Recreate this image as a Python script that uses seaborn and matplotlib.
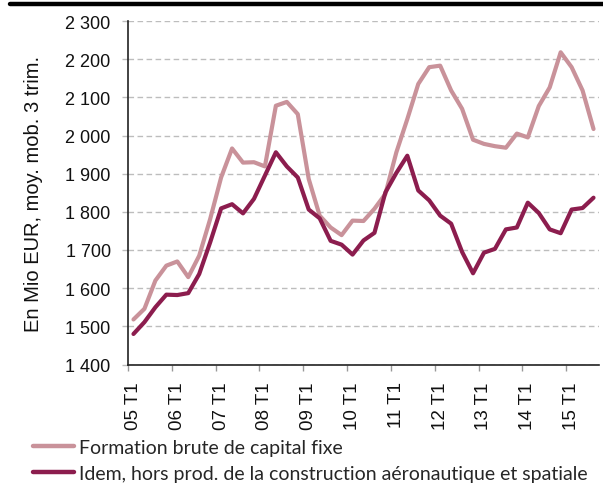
import numpy as np
import pandas as pd
import seaborn as sns
import matplotlib.pyplot as plt
from matplotlib.lines import Line2D
from matplotlib.ticker import FixedLocator, FuncFormatter

# quarters 05 T1 .. 15 T3
years = list(range(5, 16))
quarters = ['{:02d} T{}'.format(y, q) for y in years for q in range(1, 5)][:43]

fbcf = [1518, 1546, 1620, 1659, 1670, 1629, 1685, 1781, 1890, 1966,
        1929, 1930, 1919, 2078, 2088, 2056, 1886, 1790, 1759, 1739,
        1777, 1776, 1808, 1847, 1956, 2043, 2135, 2179, 2183, 2118,
        2070, 1989, 1978, 1972, 1968, 2005, 1995, 2077, 2126, 2218,
        2179, 2118, 2017]
hors_aero = [1480, 1511, 1550, 1583, 1582, 1587, 1637, 1720, 1809, 1820,
             1796, 1834, 1895, 1956, 1919, 1890, 1806, 1783, 1724, 1714,
             1688, 1725, 1745, 1851, 1902, 1947, 1856, 1830, 1790, 1769,
             1695, 1639, 1693, 1703, 1754, 1759, 1824, 1797, 1754, 1744,
             1806, 1810, 1837]

lab_a = 'Formation brute de capital fixe'
lab_b = 'Idem, hors prod. de la construction aéronautique et spatiale'

df = pd.DataFrame({
    'pos': list(range(len(quarters))) * 2,
    'val': fbcf + hors_aero,
    'serie': [lab_a] * len(fbcf) + [lab_b] * len(hors_aero),
})

sns.set_theme(style='white')
plt.rcParams['font.family'] = ['Liberation Sans', 'DejaVu Sans']

fig = plt.figure(figsize=(6.03, 4.85), dpi=100)
ax = fig.add_axes([128 / 603, 1 - 365.5 / 485, 471 / 603, 343.5 / 485])

sns.lineplot(data=df, x='pos', y='val', hue='serie', hue_order=[lab_a, lab_b],
             palette=['#C9929A', '#8C1D4E'], linewidth=3, ax=ax, legend=False,
             zorder=3)

ax.set_xlim(-0.5, len(quarters) - 0.5)
ax.set_ylim(1400, 2300)
ax.set_yticks(range(1400, 2301, 100))
ax.yaxis.set_major_formatter(FuncFormatter(lambda v, p: '{:,}'.format(int(v)).replace(',', ' ')))
ax.grid(axis='y', color='#BDBDBD', linestyle=(0, (4, 2.5)), linewidth=1)

lab_pos = list(range(0, len(quarters), 4))
ax.set_xticks(lab_pos)
ax.set_xticklabels([quarters[i] for i in lab_pos], rotation=90)
ax.xaxis.set_minor_locator(FixedLocator([i - 0.5 for i in lab_pos]))
ax.tick_params(axis='x', which='major', length=0, pad=12, labelsize=13.5, colors='#111111')
ax.tick_params(axis='x', which='minor', length=4.5, width=1, color='#999999', bottom=True)
ax.tick_params(axis='y', length=4.5, width=1, color='#BDBDBD', left=True, pad=8,
               labelsize=13, labelcolor='#111111')

for s in ['top', 'right']:
    ax.spines[s].set_visible(False)
for s in ['left', 'bottom']:
    ax.spines[s].set_color('#222222')
    ax.spines[s].set_linewidth(1.2)

ax.set_xlabel('')
ax.set_ylabel('En Mio EUR, moy. mob. 3 trim.', fontsize=14.5, color='#111111', labelpad=16)

# bar at the top
fig.add_artist(Line2D([10 / 603, 1], [1 - 4.5 / 485] * 2, color='black', linewidth=3.2))

handles = [Line2D([], [], color='#C9929A', linewidth=3.2),
           Line2D([], [], color='#8C1D4E', linewidth=3.2)]
fig.legend(handles, [lab_a, lab_b], loc='upper left', bbox_to_anchor=(33 / 603, 1 - 440 / 485),
           frameon=False, handlelength=2.1, handletextpad=0.25,
           labelspacing=0.45, borderpad=0, borderaxespad=0,
           prop={'family': ['Lato', 'DejaVu Sans'], 'size': 14})

fig.savefig('out.png', dpi=100)
